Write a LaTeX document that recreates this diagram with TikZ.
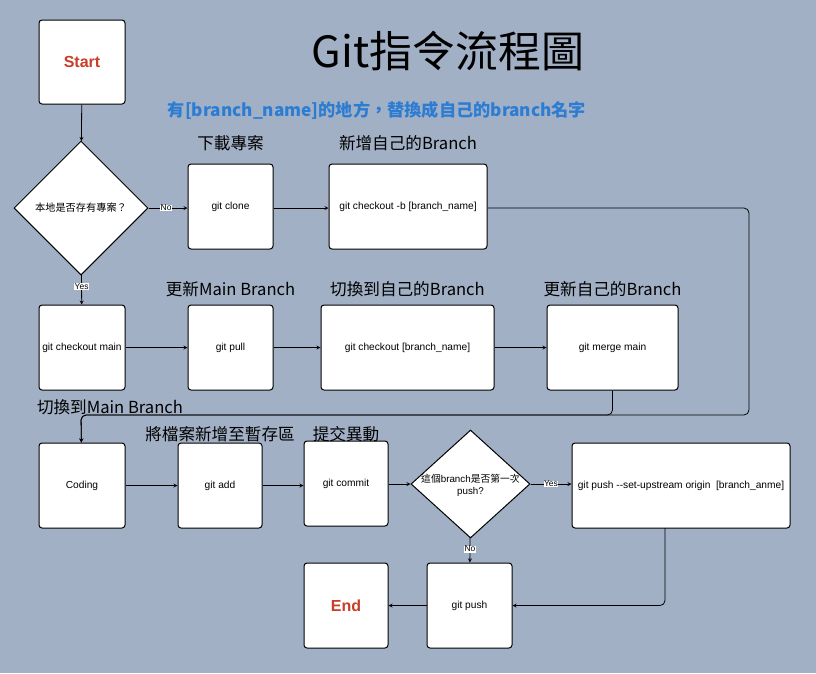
\documentclass[tikz,border=0pt]{standalone}
\usepackage{fontspec}
\setmainfont{Liberation Sans}
\newfontfamily\cjk{Noto Sans CJK TC}
\usetikzlibrary{positioning}
\usetikzlibrary{shapes,shapes.geometric,arrows,fit,calc}
\definecolor{bgslate}{RGB}{162,176,197}
\definecolor{startred}{RGB}{200,62,40}
\definecolor{noteblue}{RGB}{44,125,210}
\tikzset{
  box/.style={draw, fill=white, line width=1pt, rounded corners=3pt, align=center,
    font=\fontsize{10.2}{12}\selectfont, inner sep=1pt},
  ask/.style={draw, fill=white, line width=1pt, diamond, inner sep=0pt},
  tag/.style={font=\fontsize{16.6}{18}\selectfont\cjk},
  yn/.style={fill=white, inner sep=0.5pt, font=\fontsize{8.5}{9}\selectfont},
  flow/.style={->, >=stealth, line width=0.8pt}
}
\begin{document}
\begin{tikzpicture}[x=1pt,y=-1pt,node distance=10pt,on grid]
    \fill[bgslate] (0,0) rectangle (816,673);
    \useasboundingbox (0,0) rectangle (816,673);

    % title and note
    \node (title) at (448,51) {\fontsize{43}{46}\selectfont\cjk Git指令流程圖};
    \node[text=noteblue] (note) at (377,110) {\fontsize{17.2}{19}\selectfont\cjk\bfseries 有[branch\_name]的地方，替換成自己的branch名字};

    % first column and first row
    \node[box, minimum width=86pt, minimum height=84pt] (start) at (82,62)
        {\fontsize{16}{18}\selectfont\bfseries\color{startred}Start};
    \node[ask, minimum width=134pt, minimum height=134pt] (local) at (81,208)
        {\fontsize{10.2}{11}\selectfont\cjk 本地是否存有專案？};
    \node[box, minimum width=85pt, minimum height=85pt] (clone) at (230.5,206.5) {git clone};
    \node[box, minimum width=158pt, minimum height=85pt] (newbr) [right=177.5pt of clone] {git checkout -b [branch\_name]};

    % second row
    \node[box, minimum width=86pt, minimum height=85pt] (main) at (82,347.5) {git checkout main};
    \node[box, minimum width=85pt, minimum height=85pt] (pull) [right=148.5pt of main] {git pull};
    \node[box, minimum width=173pt, minimum height=85pt] (mybr) [right=177pt of pull] {git checkout [branch\_name]};
    \node[box, minimum width=131pt, minimum height=85pt] (merge) [right=205pt of mybr] {git merge main};

    % third row
    \node[box, minimum width=86pt, minimum height=85pt] (coding) at (82,485.5) {Coding};
    \node[box, minimum width=84pt, minimum height=85pt] (add) [right=138pt of coding] {git add};
    \node[box, minimum width=84pt, minimum height=85pt] (commit) at (346,483.5) {git commit};
    \node[ask, minimum width=119pt, minimum height=108pt,
        label={[align=center, font=\fontsize{9.8}{12}\selectfont, yshift=-1pt]center:{\cjk 這個}branch{\cjk 是否第一次}\\push?}] (first) at (470.5,484) {};
    \node[box, minimum width=218pt, minimum height=85pt] (upstream) at (681,485.5) {git push -{}-set-upstream origin\ \ [branch\_anme]};

    % last row
    \node[box, minimum width=85pt, minimum height=85pt] (push) at (469.5,605.5) {git push};
    \node[box, minimum width=84pt, minimum height=85pt] (end) [left=123.5pt of push]
        {\fontsize{16}{18}\selectfont\bfseries\color{startred}End};

    % step labels
    \node[tag] (tclone) [above=63pt of clone] {下載專案};
    \node[tag] (tnewbr) [above=63pt of newbr] {新增自己的Branch};
    \node[tag] (tpull) [above=58pt of pull] {更新Main Branch};
    \node[tag] (tmybr) [above=58pt of mybr] {切換到自己的Branch};
    \node[tag] (tmerge) [above=58pt of merge] {更新自己的Branch};
    \node[tag] (tmain) at (110,407) {切換到Main Branch};
    \node[tag] (tadd) at (220,434) {將檔案新增至暫存區};
    \node[tag] (tcommit) at (346,434) {提交異動};

    % connectors
    \coordinate (turn) at (81,415);
    \draw[flow] (start) -- (local);
    \draw[flow] (local) -- node[yn, pos=0.45] {No} (clone.west |- local);
    \draw[flow] (clone.east |- local) -- (newbr.west |- local);
    \draw[flow] (local) -- node[yn, pos=0.4] {Yes} (main);
    \draw[flow] (main) -- (pull);
    \draw[flow] (pull) -- (mybr);
    \draw[flow] (mybr) -- (merge);
    \draw[flow, rounded corners=5pt] (newbr.east |- local) -| (749,415) -- (turn) -- (coding);
    \draw[flow, rounded corners=5pt] (merge.south) |- (turn) -- (coding);
    \draw[flow] (coding) -- (add);
    \draw[flow] (add) -- (commit.west |- add);
    \draw[flow] (commit.east |- first) -- (first);
    \draw[flow] (first) -- node[yn, pos=0.5] {Yes} (upstream.west |- first);
    \draw[flow] (first) -- node[yn, pos=0.45] {No} (push);
    \draw[flow, rounded corners=5pt] (665,528) |- (push);
    \draw[flow] (push) -- (end);
\end{tikzpicture}
\end{document}
